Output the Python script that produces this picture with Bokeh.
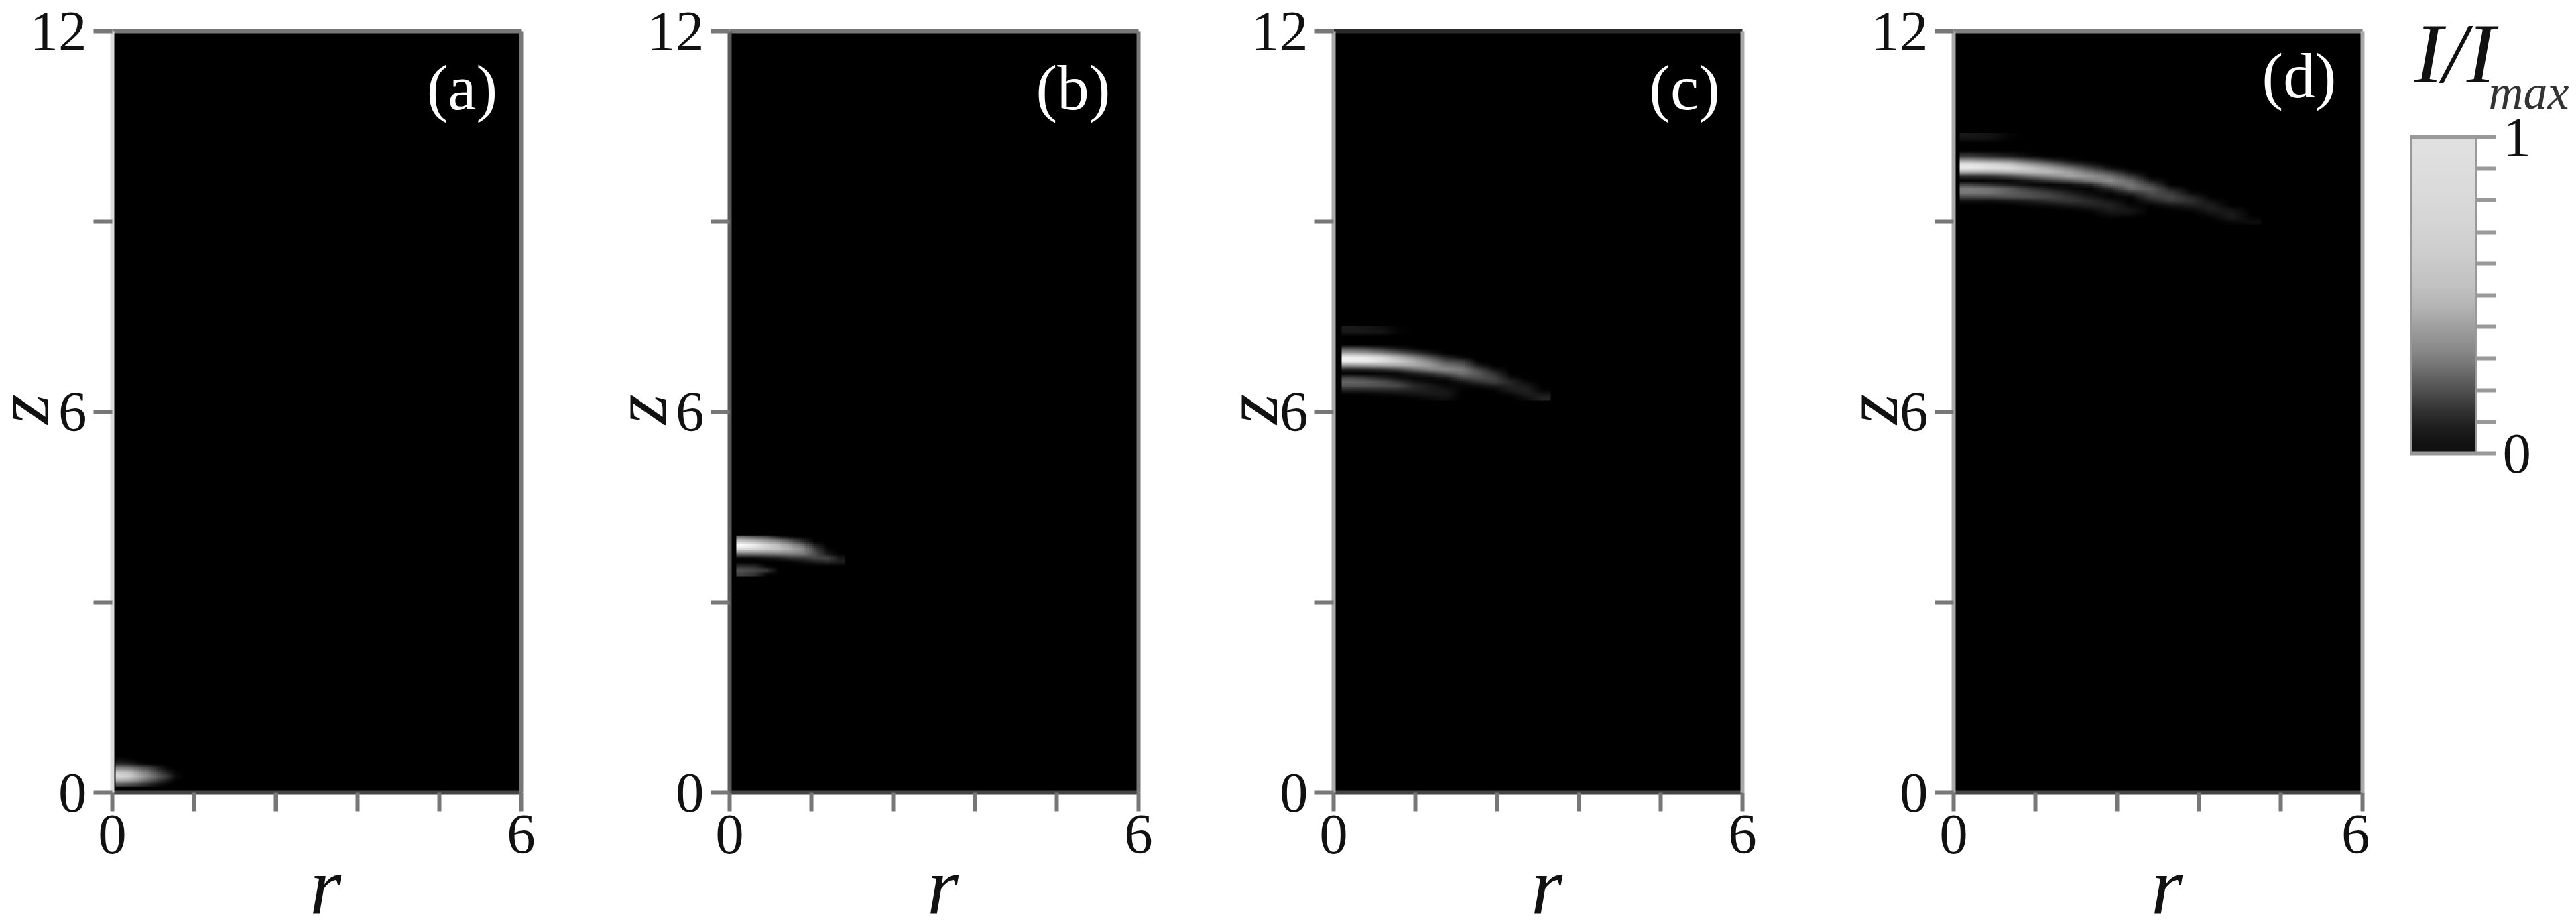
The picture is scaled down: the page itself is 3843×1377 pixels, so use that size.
import numpy as np
from bokeh.embed import file_html
from bokeh.resources import INLINE
from bokeh.layouts import row
from bokeh.plotting import figure
from bokeh.models import Range1d, LinearAxis, FixedTicker, LinearColorMapper, Label
from bokeh.core.properties import value

# ---- data: grey level of the picture, one list per column, top row first
a_cols = [
    [10,40,130,200,215,170,80],
    [5,30,120,190,205,160,70],
    [0,12,95,150,170,130,55],
    [0,3,70,115,135,95,35],
    [0,0,35,70,95,60,15],
    [0,0,5,30,55,25,3],
    [0,0,0,3,8,0,0],
]
b_cols = [
    [110,205,255,215,110,8,0,45,85,65],
    [90,190,240,210,110,12,0,40,75,50],
    [70,165,215,200,115,20,0,5,60,5],
    [30,140,190,190,120,30,0,0,0,0],
    [8,95,155,170,125,50,5,0,0,0],
    [0,45,110,140,120,55,15,0,0,0],
    [0,0,35,65,80,70,30,0,0,0],
    [0,0,0,8,25,70,40,0,0,0],
    [0,0,0,0,0,25,30,0,0,0],
]
c_cols = [
    [28,25,0,0,0,85,170,238,240,150,35,0,70,100,85,35,3,0],
    [22,24,0,0,0,75,160,232,238,158,40,0,55,95,85,35,5,0],
    [16,22,0,0,0,50,135,215,225,165,50,3,35,80,80,38,10,0],
    [3,5,0,0,0,25,100,180,205,170,70,8,15,50,75,40,14,0],
    [0,0,0,0,0,8,60,135,175,170,105,30,5,20,42,35,20,3],
    [0,0,0,0,0,0,25,85,130,155,130,55,10,8,25,28,25,10],
    [0,0,0,0,0,0,0,35,75,115,140,90,25,3,8,20,25,15],
    [0,0,0,0,0,0,0,8,60,95,125,115,70,25,5,3,0,0],
    [0,0,0,0,0,0,0,0,0,25,70,90,80,50,15,0,0,0],
    [0,0,0,0,0,0,0,0,0,0,20,48,68,65,30,5,0,0],
    [0,0,0,0,0,0,0,0,0,0,0,0,15,38,35,30,10,0],
    [0,0,0,0,0,0,0,0,0,0,0,0,0,8,25,32,30,14],
    [0,0,0,0,0,0,0,0,0,0,0,0,0,0,0,3,22,35],
]
d_cols = [
    [25,20,0,0,0,55,150,225,235,170,50,0,65,125,120,70,15,0,0,0,0,0,0],
    [20,18,0,0,0,40,130,215,225,170,55,3,45,115,115,72,14,0,0,0,0,0,0],
    [5,4,0,0,0,25,115,195,222,178,80,8,25,90,95,80,22,0,0,0,0,0,0],
    [0,0,0,0,0,8,75,150,200,188,115,30,8,50,80,80,30,8,0,0,0,0,0],
    [0,0,0,0,0,0,35,110,165,185,140,60,3,25,60,70,45,14,0,0,0,0,0],
    [0,0,0,0,0,0,10,55,120,160,165,90,15,8,30,50,55,25,5,0,0,0,0],
    [0,0,0,0,0,0,0,20,65,115,150,125,40,3,10,25,42,35,14,0,0,0,0],
    [0,0,0,0,0,0,0,0,15,70,115,145,110,45,8,3,22,35,30,20,3,0,0],
    [0,0,0,0,0,0,0,0,0,15,55,100,120,110,45,8,0,8,20,18,0,0,0],
    [0,0,0,0,0,0,0,0,0,0,0,25,65,95,80,60,30,5,0,0,0,0,0],
    [0,0,0,0,0,0,0,0,0,0,0,0,0,30,60,72,60,20,3,0,0,0,0],
    [0,0,0,0,0,0,0,0,0,0,0,0,0,0,10,38,48,32,12,0,0,0,0],
    [0,0,0,0,0,0,0,0,0,0,0,0,0,0,0,0,15,30,30,18,3,0,0],
    [0,0,0,0,0,0,0,0,0,0,0,0,0,0,0,0,0,0,18,28,26,8,0],
    [0,0,0,0,0,0,0,0,0,0,0,0,0,0,0,0,0,0,0,0,5,15,0],
]
# extents of each grid in (r, z): r_start, r_width, z_start, z_height
a_extent = (0.049, 0.964, 0.093, 0.456)
b_extent = (0.098, 1.593, 3.401, 0.652)
c_extent = (0.118, 3.069, 6.179, 1.173)
d_extent = (0.0885, 4.426, 8.892, 1.499)

panel_names = ["(a)", "(b)", "(c)", "(d)"]
name_r = [5.134, 5.04, 5.15, 5.07]
name_z = [11.11, 11.11, 11.11, 11.3]

x_ticks = [0, 1.2, 2.4, 3.6, 4.8, 6]
x_tick_text = {0: "0", 1.2: "", 2.4: "", 3.6: "", 4.8: "", 6: "6"}
y_ticks = [0, 3, 6, 9, 12]
y_tick_text = {0: "0", 3: "", 6: "6", 9: "", 12: "12"}

bar_levels = [17,28,46,70,92,116,136,152,168,182,192,198,204,208,212,215,218,220,222,224]
bar_ticks = [0, 0.1, 0.2, 0.3, 0.4, 0.5, 0.6, 0.7, 0.8, 0.9, 1]
bar_tick_text = {t: "" for t in bar_ticks}
bar_tick_text[0] = "0"
bar_tick_text[1] = "1"

# ---- styling
SERIF = "Liberation Serif"
greys = [f"#{g:02x}{g:02x}{g:02x}" for g in range(256)]
mapper = LinearColorMapper(palette=greys, low=0, high=255)
TOP, FRAME_H, H = 46, 1136, 1375

left_col = ["#dcdcdc", "#5a5a5a", "#aaaaaa", "#aaaaaa"]
top_col = ["#777777", "#777777", "#2a2a2a", "#808080"]
right_col = ["#777777", "#777777", "#aaaaaa", "#aaaaaa"]
z_label_r = [-1.32, -1.32, -1.21, -1.21]
LEFT = 258   # room the tick labels and the z label take on the left of a frame


def scaled(grid, fy, fx):
    """Scale the read grid up for display, as an image viewer's smooth scaling does."""
    grid = np.asarray(grid, dtype=float)
    ny, nx = grid.shape
    yy = (np.arange(ny * fy) + 0.5) / fy - 0.5
    xx = (np.arange(nx * fx) + 0.5) / fx - 0.5
    tall = np.array([np.interp(yy, np.arange(ny), grid[:, j]) for j in range(nx)]).T
    return np.array([np.interp(xx, np.arange(nx), tall[i, :]) for i in range(len(yy))])


def panel(i, cols, extent, width, fx, margin=(0, 0, 0, 0)):
    p = figure(width=width, height=H, frame_width=610, frame_height=FRAME_H,
               x_range=Range1d(0, 6), y_range=Range1d(0, 12),
               output_backend="svg", toolbar_location=None, margin=margin,
               min_border_left=LEFT, min_border_right=width - LEFT - 610,
               min_border_top=TOP, min_border_bottom=H - TOP - FRAME_H,
               background_fill_color="#000000", border_fill_color=None,
               outline_line_color=None, x_axis_location="below")
    p.grid.visible = False
    grid = np.array(cols, dtype=float).T[::-1]
    p.image(image=[scaled(grid, 4, fx)], x=extent[0], dw=extent[1], y=extent[2], dh=extent[3],
            color_mapper=mapper)
    for ax, ticks, text in ((p.xaxis[0], x_ticks, x_tick_text), (p.yaxis[0], y_ticks, y_tick_text)):
        ax.ticker = FixedTicker(ticks=ticks)
        ax.major_label_overrides = text
        ax.minor_tick_line_color = None
        ax.major_tick_in = 0
        ax.major_tick_out = 28
        ax.major_tick_line_color = "#777777"
        ax.major_tick_line_width = 6
        ax.axis_line_width = 6
        ax.major_label_text_font = SERIF
        ax.major_label_text_font_size = "85px"
        ax.major_label_text_color = "#111111"
        ax.major_label_standoff = 6
    p.xaxis[0].axis_line_color = "#444444"
    p.yaxis[0].axis_line_color = left_col[i]
    p.yaxis[0].major_label_standoff = 10
    for side, color in (("right", right_col[i]), ("above", top_col[i])):
        ax = LinearAxis(ticker=FixedTicker(ticks=[]), major_label_text_font_size="0px",
                        axis_line_color=color, axis_line_width=6,
                        major_tick_line_color=None, minor_tick_line_color=None)
        p.add_layout(ax, side)
    p.add_layout(Label(x=z_label_r[i], y=6.04, text="z", text_font=SERIF, text_font_style="italic",
                       text_font_size="115px", text_color="#111111", angle=np.pi / 2,
                       text_align="center", text_baseline="middle"), "left")
    p.add_layout(Label(x=3.13, y=-1.48, text="r", text_font=SERIF, text_font_style="italic",
                       text_font_size="120px", text_color="#111111",
                       text_align="center", text_baseline="middle"), "below")
    p.text(x=[name_r[i]], y=[name_z[i]], text=[panel_names[i]], text_font=value(SERIF),
           text_font_size=value("95px"), text_color="#ffffff",
           text_align="center", text_baseline="middle")
    return p


p1 = panel(0, a_cols, a_extent, 921, 4, margin=(0, 0, 0, -91))
p2 = panel(1, b_cols, b_extent, 901, 5)
p3 = panel(2, c_cols, c_extent, 925, 6)
p4 = panel(3, d_cols, d_extent, 879, 8)

# colour bar: a frame of the same height as the panels, so that the row keeps them aligned
bar = figure(width=300, height=H, frame_width=100, frame_height=FRAME_H,
             x_range=Range1d(0, 1), y_range=Range1d(-1.072, 1.335),
             output_backend="svg", toolbar_location=None,
             min_border_left=60, min_border_right=140, min_border_top=TOP,
             min_border_bottom=H - TOP - FRAME_H, outline_line_color=None,
             y_axis_location="right", border_fill_color=None,
             background_fill_color="#ffffff")
bar.grid.visible = False
bar.xaxis.visible = False
bar.image(image=[scaled(np.array(bar_levels, dtype=float).reshape(-1, 1), 8, 1)],
          x=0, y=0, dw=1, dh=1, color_mapper=mapper)
bar.quad(left=[0], right=[1], bottom=[0], top=[1], fill_color=None,
         line_color="#999999", line_width=6)
ax = bar.yaxis[0]
ax.ticker = FixedTicker(ticks=bar_ticks)
ax.major_label_overrides = bar_tick_text
ax.minor_tick_line_color = None
ax.major_tick_in = 0
ax.major_tick_out = 28
ax.major_tick_line_color = "#999999"
ax.major_tick_line_width = 6
ax.axis_line_color = None
ax.major_label_text_font = SERIF
ax.major_label_text_font_size = "85px"
ax.major_label_text_color = "#111111"
ax.major_label_standoff = 10
bar.add_layout(Label(x=0.06, y=1.265, text="I/I", text_font=SERIF, text_font_style="italic",
                     text_font_size="128px", text_color="#111111", text_baseline="alphabetic"), "right")
bar.add_layout(Label(x=1.17, y=1.141, text="max", text_font=SERIF, text_font_style="italic",
                     text_font_size="72px", text_color="#333333", text_baseline="alphabetic"), "right")

layout = row(p1, p2, p3, p4, bar, spacing=0)
open("out.html", "w").write(file_html(layout, INLINE))
